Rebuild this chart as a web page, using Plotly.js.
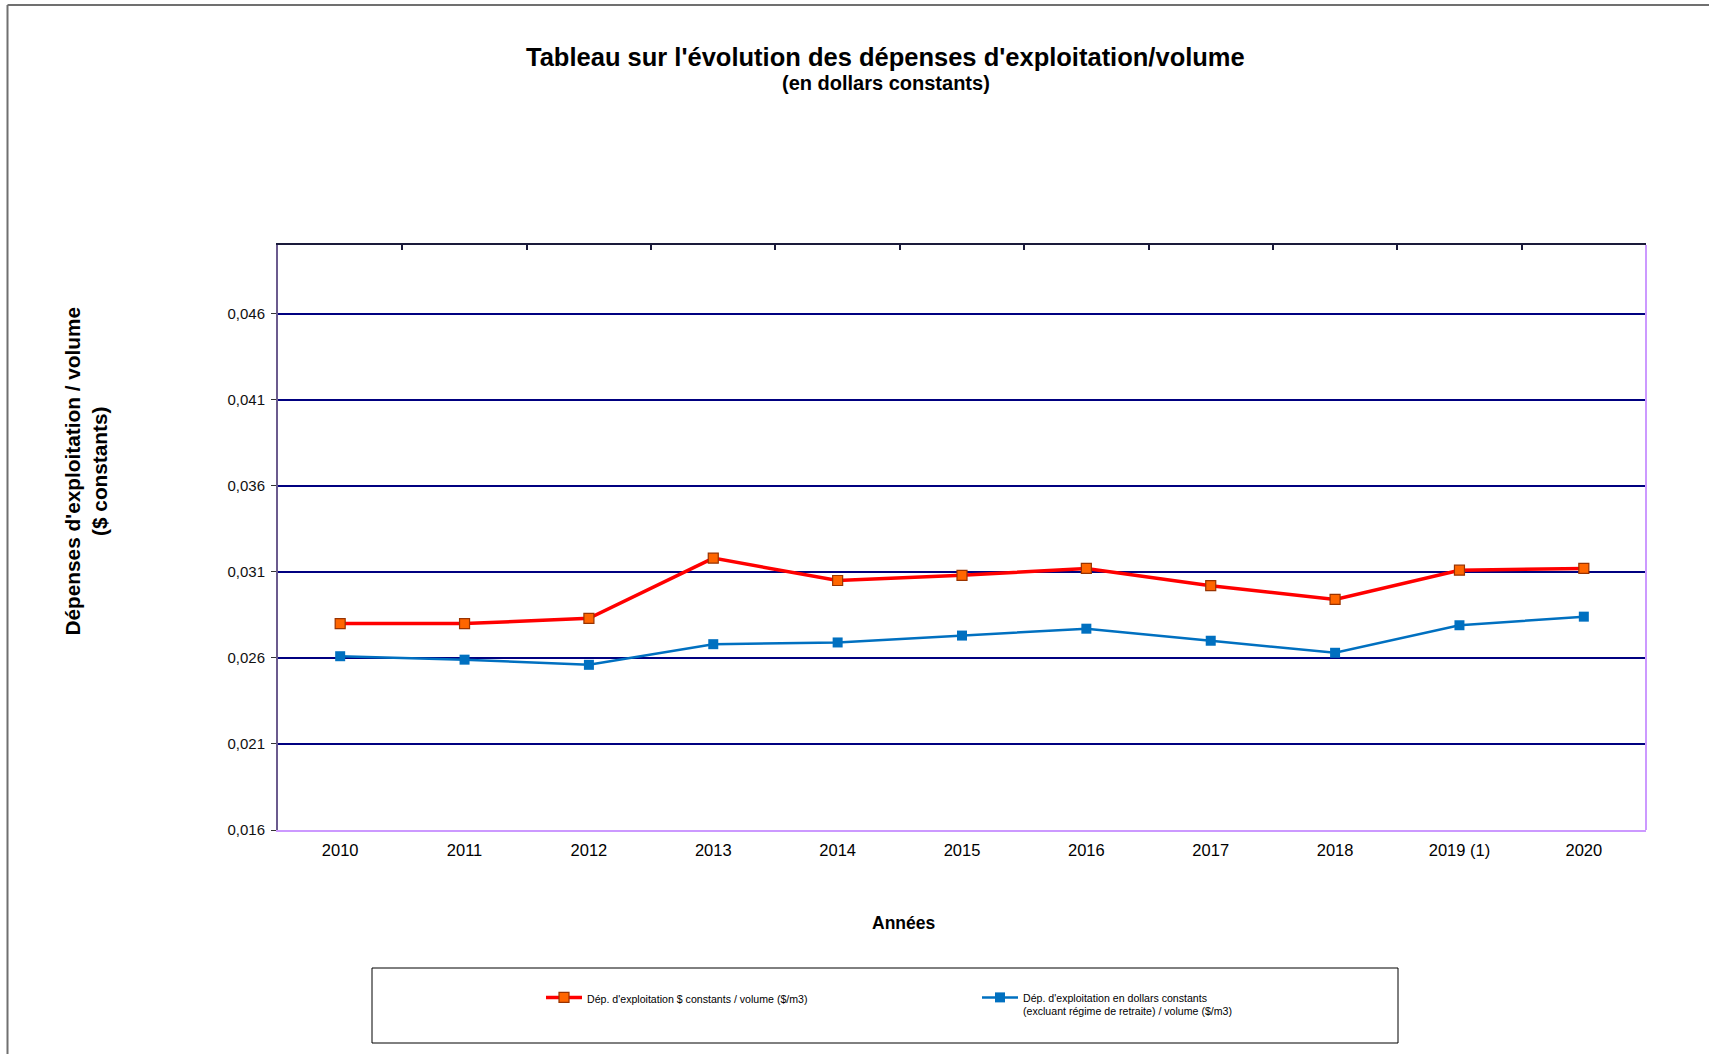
<!DOCTYPE html>
<html>
<head>
<meta charset="utf-8">
<script src="https://cdn.plot.ly/plotly-3.0.1.min.js"></script>
<style>html,body{margin:0;padding:0;background:#fff;}#chart{width:1709px;height:1054px;}</style>
</head>
<body>
<div id="chart"></div>
<script>
const categories = ['2010','2011','2012','2013','2014','2015','2016','2017','2018','2019 (1)','2020'];
const depConstants = [0.0280,0.0280,0.0283,0.0318,0.0305,0.0308,0.0312,0.0302,0.0294,0.0311,0.0312];
const depSansRetraite = [0.0261,0.0259,0.0256,0.0268,0.0269,0.0273,0.0277,0.0270,0.0263,0.0279,0.0284];
const yTicks = [0.016,0.021,0.026,0.031,0.036,0.041,0.046];
const seriesNames = ["Dép. d'exploitation $ constants / volume ($/m3)",
  "Dép. d'exploitation en dollars constants<br>(excluant régime de retraite) / volume ($/m3)"];

const FONT = 'Liberation Sans, Arial, sans-serif';
const W = 1709, H = 1054;
const L = 278, R = 1646, T = 245, B = 830;
const px = x => (x - L) / (R - L);
const py = y => (B - y) / (B - T);

const traces = [
  {x: categories, y: depConstants, type: 'scatter', mode: 'lines+markers', name: seriesNames[0],
   line: {color: '#ff0000', width: 3.5},
   marker: {symbol: 'square', size: 10, color: '#ff6600', line: {color: '#993300', width: 1.2}}},
  {x: categories, y: depSansRetraite, type: 'scatter', mode: 'lines+markers', name: seriesNames[1],
   line: {color: '#0070c0', width: 2.5},
   marker: {symbol: 'square', size: 10, color: '#0070c0'}},
  {x: [], y: [], xaxis: 'x2', type: 'scatter', showlegend: false, hoverinfo: 'skip'}
];

const layout = {
  width: W, height: H,
  margin: {l: L, r: W - R, t: T, b: H - B, pad: 0},
  paper_bgcolor: '#ffffff', plot_bgcolor: '#ffffff',
  separators: ', ',
  font: {family: FONT, color: '#000'},
  showlegend: true,
  legend: {orientation: 'h', x: px(541), y: py(984), xanchor: 'left', yanchor: 'top',
    font: {family: FONT, size: 10.6, color: '#000'}, bgcolor: 'rgba(0,0,0,0)',
    itemwidth: 36, entrywidth: 385, entrywidthmode: 'pixels', valign: 'top', traceorder: 'normal'},
  xaxis: {type: 'category', range: [-0.5, 10.5], showgrid: false, zeroline: false,
    showline: true, linecolor: '#cc99ff', linewidth: 2, ticks: '',
    tickfont: {family: FONT, size: 16.5, color: '#000'}, ticklabelstandoff: 4, fixedrange: true},
  xaxis2: {overlaying: 'x', side: 'top', range: [-0.5, 10.5], showgrid: false, zeroline: false,
    showline: true, linecolor: '#1a1a3a', linewidth: 2, ticks: 'inside', ticklen: 5, tickwidth: 2,
    tickcolor: '#1a1a3a', tickvals: [-0.5,0.5,1.5,2.5,3.5,4.5,5.5,6.5,7.5,8.5,9.5,10.5],
    showticklabels: false},
  yaxis: {range: [0.016, 0.050], tickvals: yTicks, tickformat: '.3f',
    showgrid: true, gridcolor: '#000080', gridwidth: 2, zeroline: false,
    showline: true, linecolor: '#6b5b8e', linewidth: 2, ticks: 'outside', ticklen: 5, tickwidth: 1,
    tickcolor: '#333', tickfont: {family: FONT, size: 15, color: '#111'}, ticklabelstandoff: 3},
  shapes: [
    {type: 'line', xref: 'paper', yref: 'paper', x0: 1, x1: 1, y0: 0, y1: 1, line: {color: '#cc99ff', width: 2}},
    {type: 'line', xref: 'paper', yref: 'paper', x0: px(7.5), x1: px(W + 5), y0: py(5), y1: py(5), line: {color: '#707070', width: 2}},
    {type: 'line', xref: 'paper', yref: 'paper', x0: px(7.5), x1: px(7.5), y0: py(5), y1: py(H + 5), line: {color: '#707070', width: 2}},
    {type: 'rect', xref: 'paper', yref: 'paper', x0: px(372), x1: px(1398), y0: py(968), y1: py(1043), line: {color: '#000', width: 1}}
  ],
  annotations: [
    {text: "<b>Tableau sur l'évolution des dépenses d'exploitation/volume</b>", xref: 'paper', yref: 'paper',
     x: px(885), y: py(57), xanchor: 'center', yanchor: 'middle', showarrow: false,
     font: {family: FONT, size: 25.5, color: '#000'}},
    {text: "<b>(en dollars constants)</b>", xref: 'paper', yref: 'paper',
     x: px(886), y: py(83), xanchor: 'center', yanchor: 'middle', showarrow: false,
     font: {family: FONT, size: 20, color: '#000'}},
    {text: "<b>Dépenses d'exploitation / volume<br>($ constants)</b>", xref: 'paper', yref: 'paper',
     x: px(85.5), y: py(471), xanchor: 'center', yanchor: 'middle', showarrow: false, textangle: -90, align: 'center',
     font: {family: FONT, size: 20.8, color: '#000'}},
    {text: "<b>Années</b>", xref: 'paper', yref: 'paper', x: px(903), y: py(923),
     xanchor: 'center', yanchor: 'middle', showarrow: false,
     font: {family: FONT, size: 17.5, color: '#000'}}
  ]
};

Plotly.newPlot('chart', traces, layout, {displayModeBar: false, staticPlot: true});
</script>
</body>
</html>
